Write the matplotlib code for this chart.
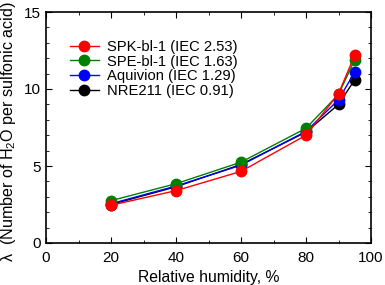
import matplotlib
matplotlib.use('Agg')
import matplotlib.pyplot as plt
from matplotlib.ticker import MultipleLocator

plt.rcParams['font.family'] = ['Liberation Sans', 'DejaVu Sans']
plt.rcParams['mathtext.fontset'] = 'custom'
plt.rcParams['mathtext.rm'] = 'Liberation Sans'

rh = [20, 40, 60, 80, 90, 95]
spk = [2.45, 3.4, 4.65, 7.0, 9.7, 12.2]
spe = [2.75, 3.85, 5.25, 7.45, 9.65, 11.9]
aqu = [2.55, 3.7, 5.05, 7.25, 9.3, 11.1]
nre = [2.5, 3.65, 5.1, 7.2, 9.0, 10.6]

series = [
    ('SPK-bl-1 (IEC 2.53)', spk, 'red'),
    ('SPE-bl-1 (IEC 1.63)', spe, 'green'),
    ('Aquivion (IEC 1.29)', aqu, 'blue'),
    ('NRE211 (IEC 0.91)', nre, 'black'),
]

fig = plt.figure(figsize=(3.85, 2.85), dpi=100)
ax = fig.add_axes([46/385, 1 - 243/285, 325/385, 231/285])

# draw in reverse so red sits on top
for label, vals, col in reversed(series):
    ax.plot(rh, vals, '-o', color=col, lw=1, ms=7.5, label=label)

handles, labels = ax.get_legend_handles_labels()
ax.legend(handles[::-1], labels[::-1], loc='upper left', bbox_to_anchor=(0.055, 0.905),
          frameon=False, fontsize=10.6, handlelength=2.0, handletextpad=0.55,
          labelspacing=0.05, borderaxespad=0)

ax.set_xlim(0, 100)
ax.set_ylim(0, 15)
ax.xaxis.set_major_locator(MultipleLocator(20))
ax.xaxis.set_minor_locator(MultipleLocator(10))
ax.yaxis.set_major_locator(MultipleLocator(5))
ax.yaxis.set_minor_locator(MultipleLocator(1))
ax.tick_params(which='both', direction='in', top=True, right=True, labelsize=11)
ax.tick_params(which='major', length=4)
ax.tick_params(which='minor', length=2.5)
ax.tick_params(axis='x', pad=5.5)
for s in ax.spines.values():
    s.set_linewidth(1.2)

ax.set_xlabel('Relative humidity, %', fontsize=11.3, labelpad=4)
ax.set_ylabel('\u03bb  (Number of H$_\\mathrm{2}$O per sulfonic acid)', fontsize=11.6)
ax.yaxis.set_label_coords(-0.085, 0.48)

fig.savefig('out.png', dpi=100)
